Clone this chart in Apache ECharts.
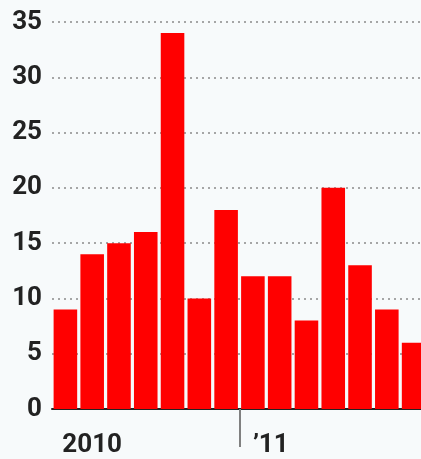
<!DOCTYPE html>
<html>
<head>
<meta charset="utf-8">
<script src="https://cdn.jsdelivr.net/npm/echarts@6/dist/echarts.min.js"></script>
<style>
  html, body { margin: 0; padding: 0; overflow: hidden; background: #f7fafb; }
  #chart { width: 427px; height: 459px; }
</style>
</head>
<body>
<div id="chart"></div>
<script>
// months Jun 2010 .. Jul 2011
var months = ["Jun", "Jul", "Aug", "Sep", "Oct", "Nov", "Dec", "Jan", "Feb", "Mar", "Apr", "May", "Jun", "Jul"];
var values = [9, 14, 15, 16, 34, 10, 18, 12, 12, 8, 20, 13, 9, 6];
var xLabels = ["", "2010", "", "", "", "", "", "\u201911", "", "", "", "", "", ""];
var yTicks = [0, 5, 10, 15, 20, 25, 30, 35];
var yearStart = 7; // first month of '11

var chart = echarts.init(document.getElementById("chart"));

var labelFont = {
  fontFamily: "Roboto",
  fontWeight: "bold",
  fontSize: 26,
  color: "#222",
};

var option = {
  backgroundColor: "#f7fafb",
  animation: false,
  grid: {
    left: 52,
    right: 0,
    top: 22,
    bottom: 50,
  },
  xAxis: [
    {
      type: "category",
      data: months.map(function (m, i) {
        return {
          value: m,
          textStyle: { align: i === yearStart ? "left" : "center" },
        };
      }),
      boundaryGap: true,
      axisLine: {
        show: true,
        lineStyle: { color: "#222", width: 2 },
      },
      axisTick: { show: false },
      axisLabel: Object.assign({
        interval: 0,
        margin: 23,
        formatter: function (v, i) {
          return xLabels[i];
        },
      }, labelFont),
    },
    {
      // only used for the year-divider tick
      type: "value",
      position: "bottom",
      min: 0,
      max: months.length,
      axisLine: { show: false },
      splitLine: { show: false },
      axisLabel: { show: false },
      axisTick: {
        show: true,
        length: 38,
        customValues: [yearStart],
        lineStyle: { color: "#808080", width: 2 },
      },
    },
  ],
  yAxis: {
    type: "value",
    min: yTicks[0],
    max: yTicks[yTicks.length - 1],
    interval: 5,
    axisLine: { show: false },
    axisTick: { show: false },
    axisLabel: Object.assign({ margin: 10 }, labelFont),
    splitLine: {
      show: true,
      lineStyle: { color: "#8a8a8a", width: 1.5, type: [2, 4] },
    },
  },
  series: [
    {
      type: "bar",
      data: values,
      barCategoryGap: "12%",
      itemStyle: { color: "#ff0000" },
    },
  ],
};

chart.setOption(option);
</script>
</body>
</html>
